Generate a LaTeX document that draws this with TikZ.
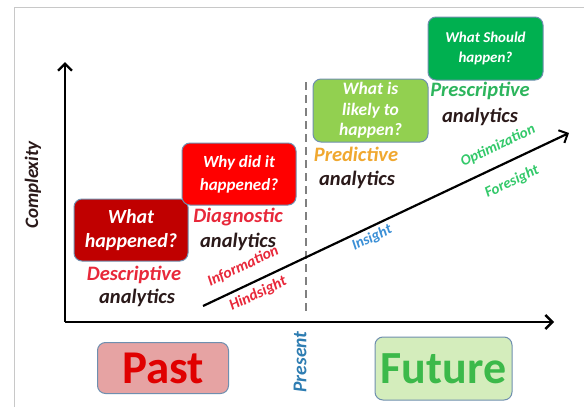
\documentclass[tikz,border=0pt]{standalone}
\usepackage{fontspec}
\setmainfont{Carlito}[BoldFont={Carlito Bold}, ItalicFont={Carlito Italic}, BoldItalicFont={Carlito Bold Italic}]
\usetikzlibrary{arrows.meta}

\definecolor{boxline}{HTML}{6F8FAF}
\definecolor{descfill}{HTML}{C00000}
\definecolor{diagfill}{HTML}{FF0000}
\definecolor{predfill}{HTML}{92D050}
\definecolor{prescfill}{HTML}{00B050}
\definecolor{pastfill}{HTML}{E6A3A3}
\definecolor{pasttext}{HTML}{E00000}
\definecolor{futfill}{HTML}{D4EDBC}
\definecolor{futtext}{HTML}{3CB94A}
\definecolor{redlabel}{HTML}{E8283A}
\definecolor{orangelabel}{HTML}{F0A830}
\definecolor{greenlabel}{HTML}{2DB55D}
\definecolor{lightgreenlabel}{HTML}{33C96A}
\definecolor{bluelabel}{HTML}{3A8FD6}
\definecolor{presentblue}{HTML}{2E7DB2}
\definecolor{darktext}{HTML}{2B1A1A}
\definecolor{framegray}{HTML}{C8C8C8}

\tikzset{
  qbox/.style={draw=boxline, line width=1pt, rounded corners=8pt, text=white,
    align=center, inner sep=1pt},
  kind/.style={font=\bfseries\itshape\fontsize{20.5}{22}\selectfont, inner sep=0pt},
  trend/.style={font=\bfseries\itshape\fontsize{15}{17}\selectfont, rotate=25.4, inner sep=0pt},
  axis/.style={line width=2.6pt, -{Straight Barb[length=7pt,width=14pt,line width=2.4pt]}},
  timebox/.style={draw=boxline, line width=1pt, rounded corners=8pt, inner sep=0pt},
}

\begin{document}
\begin{tikzpicture}[x=1pt,y=-1pt]
\useasboundingbox (0,0) rectangle (584,407);
\fill[white] (0,0) rectangle (584,407);
% light frame on the left and top
\draw[framegray, line width=1pt] (14,407) -- (14,7) -- (584,7);

% axes
\coordinate (origin) at (65,322);
\coordinate (ytip) at (65,62);
\coordinate (xtip) at (554,322);
\draw[axis] (origin) -- (ytip);
\draw[axis] (origin) -- (xtip);
\node[rotate=90, font=\bfseries\itshape\fontsize{19}{21}\selectfont, text=darktext] (complexity) at (33,185) {Complexity};

% present divider
\coordinate (ptop) at (306,82);
\coordinate (pbot) at (306,315);
\draw[gray, line width=2.4pt, dash pattern=on 8pt off 5pt] (ptop) -- (pbot);
\node[rotate=90, font=\bfseries\itshape\fontsize{19.5}{21}\selectfont, text=presentblue] (present) at (300,362) {Present};

% trend arrow
\coordinate (tstart) at (203,306);
\coordinate (tend) at (569,133);
\draw[line width=2.2pt, -{Straight Barb[length=7pt,width=14pt,line width=2pt]}] (tstart) -- (tend);
\node[trend, text=redlabel, font=\bfseries\itshape\fontsize{15.5}{17}\selectfont] (info) at (243,266) {Information};
\node[trend, text=redlabel, font=\bfseries\itshape\fontsize{15.5}{17}\selectfont] (hind) at (258,294) {Hindsight};
\node[trend, text=bluelabel] (insight) at (372,238) {Insight};
\node[trend, text=lightgreenlabel] (optim) at (498,146) {Optimization};
\node[trend, text=lightgreenlabel] (foresight) at (512,182) {Foresight};

% question boxes
\node[qbox, fill=descfill, minimum width=114pt, minimum height=62pt,
  font=\bfseries\itshape\fontsize{20}{24}\selectfont] (desc) at (131,230) {What\\happened?};
\node[qbox, fill=diagfill, minimum width=114pt, minimum height=62pt,
  font=\bfseries\itshape\fontsize{17}{23}\selectfont] (diag) at (239,174) {Why did it\\happened?};
\node[qbox, fill=predfill, minimum width=115pt, minimum height=63pt,
  font=\bfseries\itshape\fontsize{17.5}{20.5}\selectfont] (pred) at (370.5,110.5) {What is\\likely to\\happen?};
\node[qbox, fill=prescfill, minimum width=115pt, minimum height=63pt,
  font=\bfseries\itshape\fontsize{15}{20}\selectfont] (presc) at (485.5,48.5) {What Should\\happen?};

% analytics labels
\node[kind, text=redlabel] (descname) at (134,275) {Descriptive};
\node[kind, text=darktext] (descan) at (137,298) {analytics};
\node[kind, text=redlabel] (diagname) at (238,217) {Diagnostic};
\node[kind, text=darktext] (diagan) at (238,242) {analytics};
\node[kind, text=orangelabel] (predname) at (356,154) {Predictive};
\node[kind, text=darktext] (predan) at (357,180) {analytics};
\node[kind, text=greenlabel] (prescname) at (480,91) {Prescriptive};
\node[kind, text=darktext] (prescan) at (480,117) {analytics};

% time boxes
\node[timebox, fill=pastfill, text=pasttext, minimum width=131pt, minimum height=51pt,
  font=\bfseries\fontsize{47}{50}\selectfont] (past) at (163,368) {Past};
\node[timebox, fill=futfill, text=futtext, minimum width=137pt, minimum height=63pt,
  font=\bfseries\fontsize{46}{50}\selectfont] (future) at (443.5,368.5) {Future};
\end{tikzpicture}
\end{document}
